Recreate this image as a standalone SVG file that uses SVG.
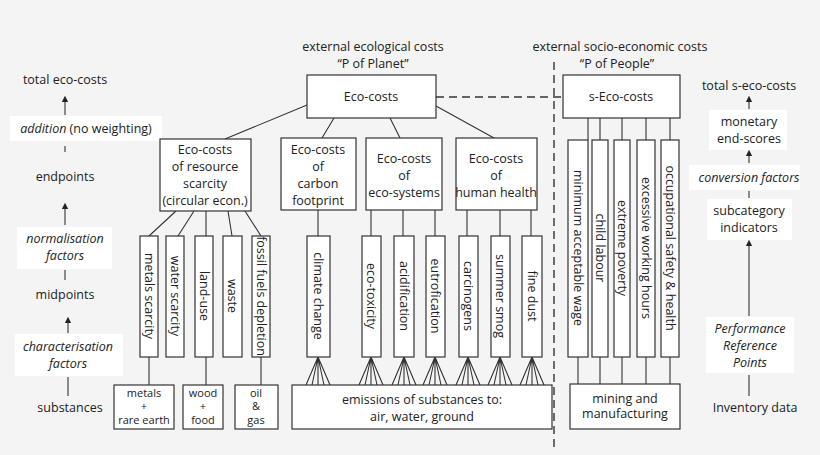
<svg xmlns="http://www.w3.org/2000/svg" width="820" height="455" viewBox="0 0 820 455">
<defs>
<style>
text{font-family:"Open Sans","Liberation Sans",sans-serif;font-size:12.5px;fill:#222;text-anchor:middle}
.i{font-style:italic}
.s{font-size:11px}
.b{fill:#fff;stroke:#333;stroke-width:1.2}
.w{fill:#fff;stroke:none}
.l{stroke:#333;stroke-width:1.1;fill:none}
.d{stroke:#333;stroke-width:1.4;fill:none;stroke-dasharray:8 5}
</style>
<marker id="a" markerWidth="6" markerHeight="6" refX="3" refY="3" orient="auto"><path d="M0,0L6,3L0,6z" fill="#222"/></marker>
</defs>
<rect width="820" height="455" fill="#f4f4f4"/>
<g id="headers">
<text x="373" y="51">external ecological costs</text>
<text x="373" y="68">“P of Planet”</text>
<text x="620" y="51">external socio-economic costs</text>
<text x="617" y="68">“P of People”</text>
</g>
<g id="left-scale">
<text x="65" y="84">total eco-costs</text>
<rect class="w" x="10" y="116" width="152" height="25"/>
<text x="86" y="133"><tspan class="i">addition</tspan> (no weighting)</text>
<text x="65" y="181">endpoints</text>
<rect class="w" x="17" y="227" width="95" height="42"/>
<text class="i" x="65" y="243">normalisation</text>
<text class="i" x="65" y="260">factors</text>
<text x="65" y="299">midpoints</text>
<rect class="w" x="15" y="334" width="108" height="42"/>
<text class="i" x="68" y="351">characterisation</text>
<text class="i" x="68" y="368">factors</text>
<text x="70" y="412">substances</text>
</g>
<g id="right-scale">
<text x="749" y="90">total s-eco-costs</text>
<rect class="w" x="709" y="110" width="78" height="40"/>
<text x="749" y="126">monetary</text>
<text x="749" y="143">end-scores</text>
<rect class="w" x="689" y="165" width="111" height="25"/>
<text class="i" x="749" y="182">conversion factors</text>
<rect class="w" x="707" y="199" width="85" height="41"/>
<text x="749" y="215">subcategory</text>
<text x="749" y="232">indicators</text>
<rect class="w" x="706" y="317" width="88" height="56"/>
<text class="i" x="750" y="333">Performance</text>
<text class="i" x="750" y="350">Reference</text>
<text class="i" x="750" y="367">Points</text>
<text x="755" y="412">Inventory data</text>
</g>
<g id="connectors">
<line class="l" x1="65" y1="115" x2="65" y2="99" marker-end="url(#a)"/>
<line class="l" x1="65" y1="146" x2="65" y2="152"/>
<line class="l" x1="65" y1="225" x2="65" y2="206" marker-end="url(#a)"/>
<line class="l" x1="65" y1="270" x2="65" y2="280"/>
<line class="l" x1="68" y1="333" x2="68" y2="320" marker-end="url(#a)"/>
<line class="l" x1="68" y1="377" x2="68" y2="396"/>
<line class="l" x1="749" y1="109" x2="749" y2="99" marker-end="url(#a)"/>
<line class="l" x1="749" y1="163" x2="749" y2="153" marker-end="url(#a)"/>
<line class="l" x1="749" y1="191" x2="749" y2="198"/>
<line class="l" x1="749" y1="316" x2="749" y2="243" marker-end="url(#a)"/>
<line class="l" x1="749" y1="375" x2="749" y2="396"/>
<line class="d" x1="554" y1="62" x2="554" y2="447"/>
<line class="d" x1="436" y1="97" x2="563" y2="97"/>
<path class="l" d="M307,105L225,139M334,118L322,138M390,118L400,138M436,106L494,138"/>
<path class="l" d="M176,211L149,236M194,211L178,236M206,211L206,236M228,211L232,236M245,211L261,236"/>
<path class="l" d="M318,210V236M371,210V236M403,210V236M435,210V236M467,210V236M500,210V236M531,210V236"/>
<path class="l" d="M149,357V385M206,357V385M261,357V385"/>
<path class="l" d="M588,118V140M600,118V140M622,118V140M646,118V140M670,118V140M578,357V384M600,357V384M622,357V384M646,357V384M670,357V384"/>
<g class="l">
<path d="M306,385L318,357L312,385M318,385L318,357L324,385M318,357L330,385"/>
<path d="M359,385L371,357L365,385M371,385L371,357L377,385M371,357L383,385"/>
<path d="M392,385L404,357L398,385M404,385L404,357L410,385M404,357L416,385"/>
<path d="M423,385L435,357L429,385M435,385L435,357L441,385M435,357L447,385"/>
<path d="M456,385L468,357L462,385M468,385L468,357L474,385M468,357L480,385"/>
<path d="M488,385L500,357L494,385M500,385L500,357L506,385M500,357L512,385"/>
<path d="M520,385L532,357L526,385M532,385L532,357L538,385M532,357L544,385"/>
</g>
</g>
<g id="eco-costs"><rect class="b" x="307" y="75" width="129" height="43"/><text x="371" y="101">Eco-costs</text></g>
<g id="s-eco-costs"><rect class="b" x="563" y="75" width="117" height="43"/><text x="621" y="101">s-Eco-costs</text></g>
<g id="resource"><rect class="b" x="160" y="139" width="91" height="72"/><text x="205" y="154">Eco-costs</text><text x="205" y="171">of resource</text><text x="205" y="188">scarcity</text><text x="205" y="205">(circular econ.)</text></g>
<g id="carbon"><rect class="b" x="281" y="138" width="75" height="72"/><text x="318" y="154">Eco-costs</text><text x="318" y="171">of</text><text x="318" y="188">carbon</text><text x="318" y="205">footprint</text></g>
<g id="ecosystems"><rect class="b" x="366" y="138" width="76" height="72"/><text x="404" y="163">Eco-costs</text><text x="404" y="180">of</text><text x="404" y="197">eco-systems</text></g>
<g id="health"><rect class="b" x="456" y="138" width="81" height="72"/><text x="496" y="163">Eco-costs</text><text x="496" y="180">of</text><text x="496" y="197">human health</text></g>
<g id="midpoints">
<rect class="b" x="140" y="236" width="18" height="121"/><text transform="translate(145,296) rotate(90)">metals scarcity</text>
<rect class="b" x="166" y="236" width="18" height="121"/><text transform="translate(171,296) rotate(90)">water scarcity</text>
<rect class="b" x="195" y="236" width="18" height="121"/><text transform="translate(200,296) rotate(90)">land-use</text>
<rect class="b" x="223" y="236" width="19" height="121"/><text transform="translate(228,296) rotate(90)">waste</text>
<rect class="b" x="252" y="236" width="18" height="121"/><text transform="translate(257,296) rotate(90)">fossil fuels depletion</text>
<rect class="b" x="307" y="236" width="23" height="121"/><text transform="translate(314,296) rotate(90)">climate change</text>
<rect class="b" x="362" y="236" width="19" height="121"/><text transform="translate(367,296) rotate(90)">eco-toxicity</text>
<rect class="b" x="394" y="236" width="20" height="121"/><text transform="translate(400,296) rotate(90)">acidification</text>
<rect class="b" x="426" y="236" width="19" height="121"/><text transform="translate(431,296) rotate(90)">eutrofication</text>
<rect class="b" x="459" y="236" width="19" height="121"/><text transform="translate(464,296) rotate(90)">carcinogens</text>
<rect class="b" x="491" y="236" width="19" height="121"/><text transform="translate(496,296) rotate(90)">summer smog</text>
<rect class="b" x="522" y="236" width="20" height="121"/><text transform="translate(528,296) rotate(90)">fine dust</text>
<rect class="b" x="568" y="140" width="20" height="217"/><text transform="translate(574,248) rotate(90)">minimum acceptable wage</text>
<rect class="b" x="592" y="140" width="16" height="217"/><text transform="translate(596,248) rotate(90)">child labour</text>
<rect class="b" x="614" y="140" width="16" height="217"/><text transform="translate(618,248) rotate(90)">extreme poverty</text>
<rect class="b" x="637" y="140" width="18" height="217"/><text transform="translate(642,248) rotate(90)">excessive working hours</text>
<rect class="b" x="661" y="140" width="18" height="217"/><text transform="translate(666,248) rotate(90)">occupational safety &amp; health</text>
</g>
<g id="metals"><rect class="b" x="114" y="385" width="60" height="44"/><text class="s" x="144" y="397">metals</text><text class="s" x="144" y="410">+</text><text class="s" x="144" y="424">rare earth</text></g>
<g id="wood"><rect class="b" x="183" y="385" width="40" height="44"/><text class="s" x="203" y="397">wood</text><text class="s" x="203" y="410">+</text><text class="s" x="203" y="424">food</text></g>
<g id="oil"><rect class="b" x="235" y="385" width="43" height="44"/><text class="s" x="256" y="397">oil</text><text class="s" x="256" y="410">&amp;</text><text class="s" x="256" y="424">gas</text></g>
<g id="emissions"><rect class="b" x="292" y="385" width="260" height="44"/><text x="422" y="404">emissions of substances to:</text><text x="422" y="421">air, water, ground</text></g>
<g id="mining"><rect class="b" x="570" y="384" width="110" height="45"/><text x="625" y="403">mining and</text><text x="625" y="418">manufacturing</text></g>
</svg>
